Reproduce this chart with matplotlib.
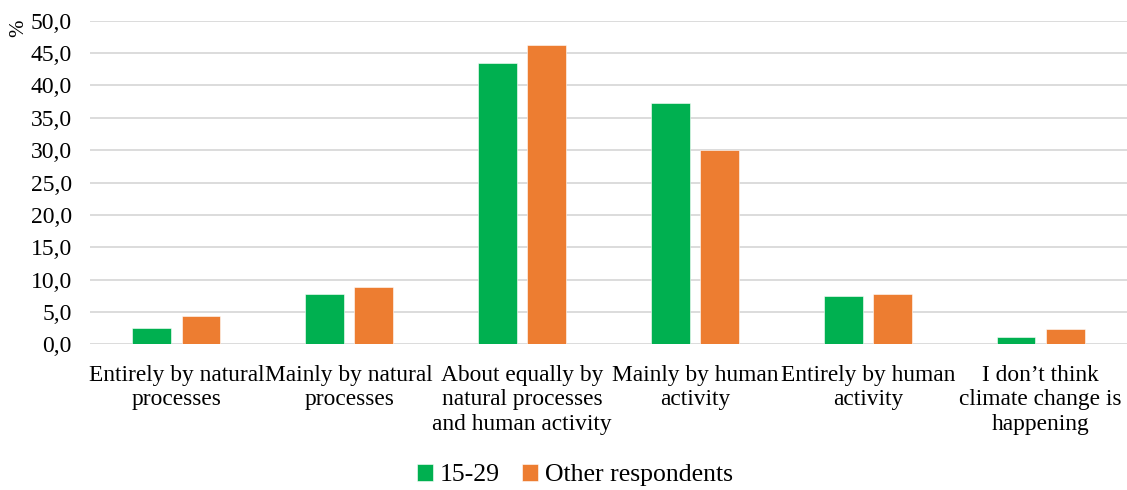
import numpy as np
import matplotlib.pyplot as plt
from matplotlib.ticker import FuncFormatter

plt.rcParams['font.family'] = ['Liberation Serif', 'DejaVu Serif']

categories = [
    "Entirely by natural\nprocesses",
    "Mainly by natural\nprocesses",
    "About equally by\nnatural processes\nand human activity",
    "Mainly by human\nactivity",
    "Entirely by human\nactivity",
    "I don\u2019t think\nclimate change is\nhappening",
]
young = [2.5, 7.7, 43.4, 37.3, 7.4, 1.2]
others = [4.3, 8.8, 46.3, 30.0, 7.8, 2.4]
series_names = ["15-29", "Other respondents"]

green = "#00B050"
orange = "#ED7D31"

fig = plt.figure(figsize=(11.27, 4.90), dpi=100)
ax = fig.add_axes([0.0799, 0.2973, 0.9201, 0.6605])

x = np.arange(len(categories))
w = 0.225
off = 0.142
ax.bar(x - off, young, w, color=green, edgecolor="white", linewidth=0.4, label=series_names[0], zorder=3)
ax.bar(x + off, others, w, color=orange, edgecolor="white", linewidth=0.4, label=series_names[1], zorder=3)

ax.set_xlim(-0.5, len(categories) - 0.5)
ax.set_ylim(0, 50)
ax.set_yticks(np.arange(0, 50.1, 5))
ax.yaxis.set_major_formatter(FuncFormatter(lambda v, p: f"{v:.1f}".replace(".", ",")))
ax.grid(axis="y", color="#D9D9D9", linewidth=1.3, zorder=0)
for s in ax.spines.values():
    s.set_visible(False)
ax.tick_params(axis="y", length=0, labelsize=17, pad=13)
ax.tick_params(axis="x", length=0, labelsize=16.8, pad=15)
ax.set_xticks(x)
ax.set_xticklabels(categories, linespacing=1.2)

fig.text(0.0165, 0.942, "%", rotation=90, fontsize=15, ha="center", va="center")

fig.legend(loc="lower center", bbox_to_anchor=(0.51, -0.04), ncol=2, frameon=False,
           fontsize=18.5, handlelength=0.62, handleheight=0.62, handletextpad=0.25,
           columnspacing=0.9)

fig.savefig("out.png", dpi=100)
